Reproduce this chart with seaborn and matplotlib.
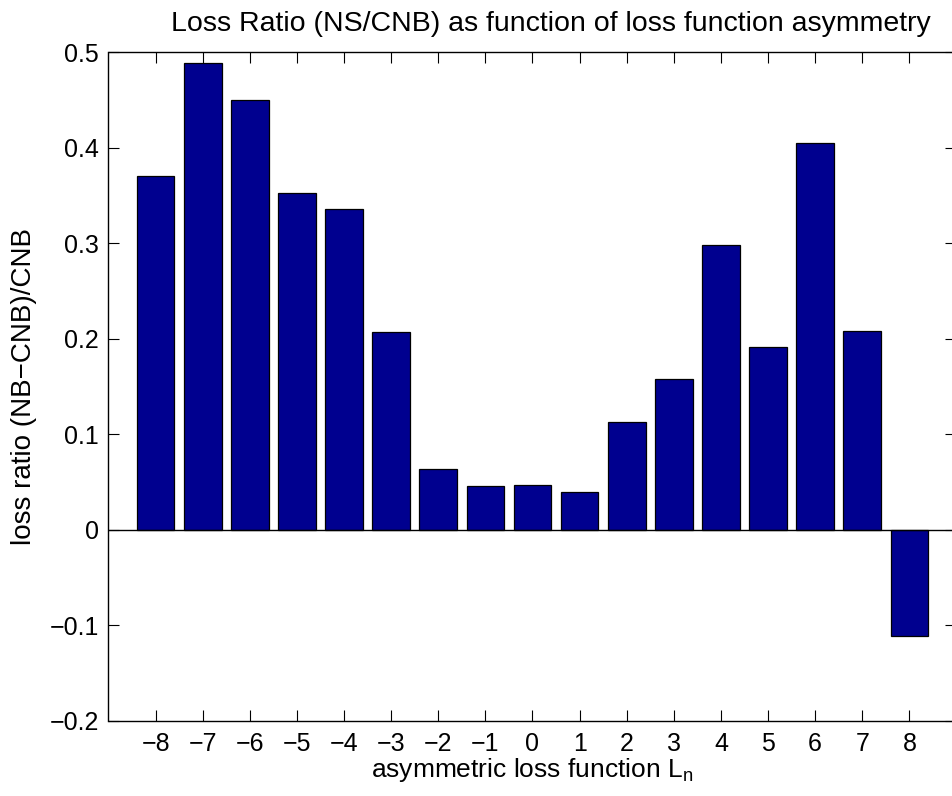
import matplotlib
matplotlib.use("Agg")
import matplotlib.pyplot as plt
import seaborn as sns
import pandas as pd

# Asymmetry level of the loss function and relative loss (NB - CNB) / CNB
asymmetry = [-8, -7, -6, -5, -4, -3, -2, -1, 0, 1, 2, 3, 4, 5, 6, 7, 8]
loss_ratio = [0.370, 0.489, 0.450, 0.353, 0.336, 0.207, 0.0636, 0.046, 0.0465,
              0.039, 0.1126, 0.158, 0.298, 0.1915, 0.4046, 0.208, -0.1118]
y_ticks = [-0.2, -0.1, 0, 0.1, 0.2, 0.3, 0.4, 0.5]

sns.set_theme(style="ticks")
plt.rcParams["font.family"] = ["Liberation Sans", "DejaVu Sans"]
plt.rcParams["mathtext.fontset"] = "custom"
plt.rcParams["mathtext.rm"] = "Liberation Sans"
plt.rcParams["text.color"] = "black"
plt.rcParams["axes.labelcolor"] = "black"

df = pd.DataFrame({"asym": asymmetry, "ratio": loss_ratio})

fig = plt.figure(figsize=(9.53, 7.96), dpi=100)
ax = fig.add_axes([108.5 / 953, 75.5 / 796, 848 / 953, 668.3 / 796])

sns.barplot(data=df, x="asym", y="ratio", native_scale=True, width=0.8,
            color="#00008F", saturation=1, edgecolor="black", linewidth=0.9,
            errorbar=None, ax=ax)

# baseline of the bar series
ax.axhline(0, color="black", linewidth=1.0, zorder=3)

ax.set_xlim(-9, 9)
ax.set_ylim(-0.2, 0.5)
ax.set_xticks(asymmetry)
ax.set_xticklabels([str(v).replace("-", "\u2212") for v in asymmetry])
ax.set_yticks(y_ticks)
ax.set_yticklabels([("%g" % v).replace("-", "\u2212") for v in y_ticks])

ax.tick_params(axis="both", direction="in", length=8, width=0.8,
               top=True, right=True, labelsize=18, colors="black")
ax.tick_params(axis="x", pad=8)
ax.tick_params(axis="y", pad=7)

for s in ax.spines.values():
    s.set_linewidth(1.0)
    s.set_color("black")

ax.set_title("Loss Ratio (NS/CNB) as function of loss function asymmetry",
             fontsize=20.5, pad=15, color="black", x=0.522)
ax.set_xlabel("asymmetric loss function L$_\\mathregular{n}$", fontsize=19, labelpad=0)
ax.set_ylabel("loss ratio (NB\u2212CNB)/CNB", fontsize=20, labelpad=9)

fig.savefig("out.png", dpi=100)
